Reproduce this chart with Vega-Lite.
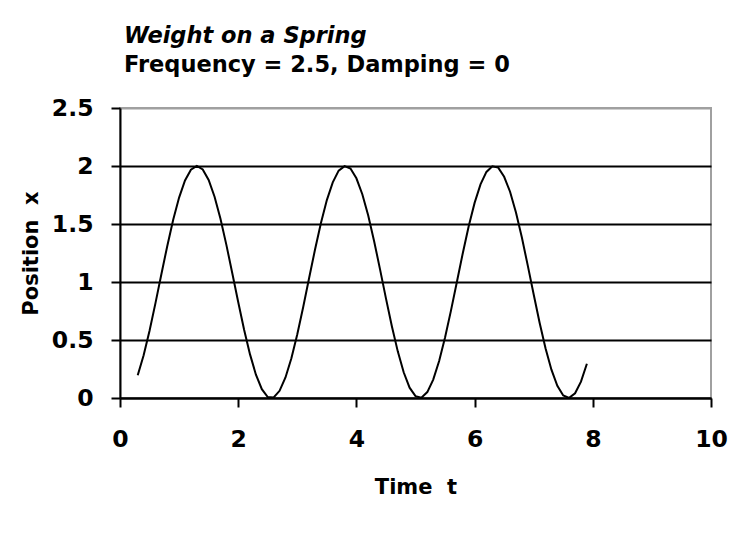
{
  "$schema": "https://vega.github.io/schema/vega-lite/v6.json",
  "width": 591,
  "height": 290,
  "autosize": {"type": "none"},
  "padding": {"left": 120, "top": 108, "right": 38, "bottom": 136},
  "background": "white",
  "title": {
    "text": "Weight on a Spring",
    "subtitle": "Frequency = 2.5, Damping = 0",
    "anchor": "start",
    "frame": "group",
    "dx": 4,
    "offset": 20,
    "font": "DejaVu Sans",
    "fontSize": 22.5,
    "fontWeight": "bold",
    "fontStyle": "italic",
    "color": "black",
    "subtitleFont": "DejaVu Sans",
    "subtitleFontSize": 22.5,
    "subtitleFontWeight": "bold",
    "subtitleFontStyle": "normal",
    "subtitleColor": "black",
    "subtitlePadding": 6
  },
  "data": {
    "values": [
      {"t": 0.3, "x": 0.196}, {"t": 0.4, "x": 0.369}, {"t": 0.5, "x": 0.580}, {"t": 0.6, "x": 0.818},
      {"t": 0.7, "x": 1.067}, {"t": 0.8, "x": 1.311}, {"t": 0.9, "x": 1.537}, {"t": 1.0, "x": 1.728},
      {"t": 1.1, "x": 1.875}, {"t": 1.2, "x": 1.968}, {"t": 1.3, "x": 2.000}, {"t": 1.4, "x": 1.970},
      {"t": 1.5, "x": 1.880}, {"t": 1.6, "x": 1.735}, {"t": 1.7, "x": 1.545}, {"t": 1.8, "x": 1.320},
      {"t": 1.9, "x": 1.076}, {"t": 2.0, "x": 0.827}, {"t": 2.1, "x": 0.589}, {"t": 2.2, "x": 0.376},
      {"t": 2.3, "x": 0.201}, {"t": 2.4, "x": 0.076}, {"t": 2.5, "x": 0.008}, {"t": 2.6, "x": 0.005},
      {"t": 2.7, "x": 0.062}, {"t": 2.8, "x": 0.177}, {"t": 2.9, "x": 0.343}, {"t": 3.0, "x": 0.550},
      {"t": 3.1, "x": 0.785}, {"t": 3.2, "x": 1.034}, {"t": 3.3, "x": 1.280}, {"t": 3.4, "x": 1.509},
      {"t": 3.5, "x": 1.706}, {"t": 3.6, "x": 1.859}, {"t": 3.7, "x": 1.960}, {"t": 3.8, "x": 1.999},
      {"t": 3.9, "x": 1.978}, {"t": 4.0, "x": 1.894}, {"t": 4.1, "x": 1.757}, {"t": 4.2, "x": 1.573},
      {"t": 4.3, "x": 1.352}, {"t": 4.4, "x": 1.109}, {"t": 4.5, "x": 0.859}, {"t": 4.6, "x": 0.619},
      {"t": 4.7, "x": 0.402}, {"t": 4.8, "x": 0.222}, {"t": 4.9, "x": 0.089}, {"t": 5.0, "x": 0.016},
      {"t": 5.1, "x": 0.003}, {"t": 5.2, "x": 0.051}, {"t": 5.3, "x": 0.159}, {"t": 5.4, "x": 0.319},
      {"t": 5.5, "x": 0.521}, {"t": 5.6, "x": 0.753}, {"t": 5.7, "x": 1.000}, {"t": 5.8, "x": 1.248},
      {"t": 5.9, "x": 1.480}, {"t": 6.0, "x": 1.682}, {"t": 6.1, "x": 1.842}, {"t": 6.2, "x": 1.949},
      {"t": 6.3, "x": 1.998}, {"t": 6.4, "x": 1.986}, {"t": 6.5, "x": 1.907}, {"t": 6.6, "x": 1.778},
      {"t": 6.7, "x": 1.600}, {"t": 6.8, "x": 1.383}, {"t": 6.9, "x": 1.141}, {"t": 7.0, "x": 0.892},
      {"t": 7.1, "x": 0.649}, {"t": 7.2, "x": 0.429}, {"t": 7.3, "x": 0.244}, {"t": 7.4, "x": 0.105},
      {"t": 7.5, "x": 0.022}, {"t": 7.6, "x": 0.001}, {"t": 7.7, "x": 0.041}, {"t": 7.8, "x": 0.141},
      {"t": 7.9, "x": 0.295}
    ]
  },
  "mark": {"type": "line", "color": "black", "strokeWidth": 2, "clip": false},
  "encoding": {
    "x": {
      "field": "t",
      "type": "quantitative",
      "scale": {"domain": [0, 10], "nice": false, "zero": false},
      "axis": {
        "title": "Time\u00a0\u00a0t",
        "values": [0, 2, 4, 6, 8, 10],
        "format": "d",
        "grid": false,
        "domainColor": "black",
        "domainWidth": 2,
        "tickColor": "black",
        "tickWidth": 2,
        "tickSize": 9,
        "labelFont": "DejaVu Sans",
        "labelFontWeight": "bold",
        "labelFontSize": 23.5,
        "labelColor": "black",
        "labelPadding": 20,
        "labelFlush": false,
        "titleFont": "DejaVu Sans",
        "titleFontWeight": "bold",
        "titleFontSize": 21,
        "titleColor": "black",
        "titlePadding": 26
      }
    },
    "y": {
      "field": "x",
      "type": "quantitative",
      "scale": {"domain": [0, 2.5], "nice": false, "zero": false},
      "axis": {
        "title": "Position\u00a0\u00a0x",
        "values": [0, 0.5, 1, 1.5, 2, 2.5],
        "format": ".1~f",
        "grid": true,
        "gridColor": {"condition": {"test": "datum.value >= 2.5", "value": "#a0a0a0"}, "value": "black"},
        "gridWidth": 2,
        "domainColor": "black",
        "domainWidth": 2,
        "tickColor": "black",
        "tickWidth": 2,
        "tickSize": 9,
        "labelFont": "DejaVu Sans",
        "labelFontWeight": "bold",
        "labelFontSize": 23.5,
        "labelColor": "black",
        "labelPadding": 18,
        "labelFlush": false,
        "titleFont": "DejaVu Sans",
        "titleFontWeight": "bold",
        "titleFontSize": 21,
        "titleColor": "black",
        "titlePadding": 10
      }
    }
  },
  "config": {
    "view": {"stroke": "#a0a0a0", "strokeWidth": 2}
  }
}
